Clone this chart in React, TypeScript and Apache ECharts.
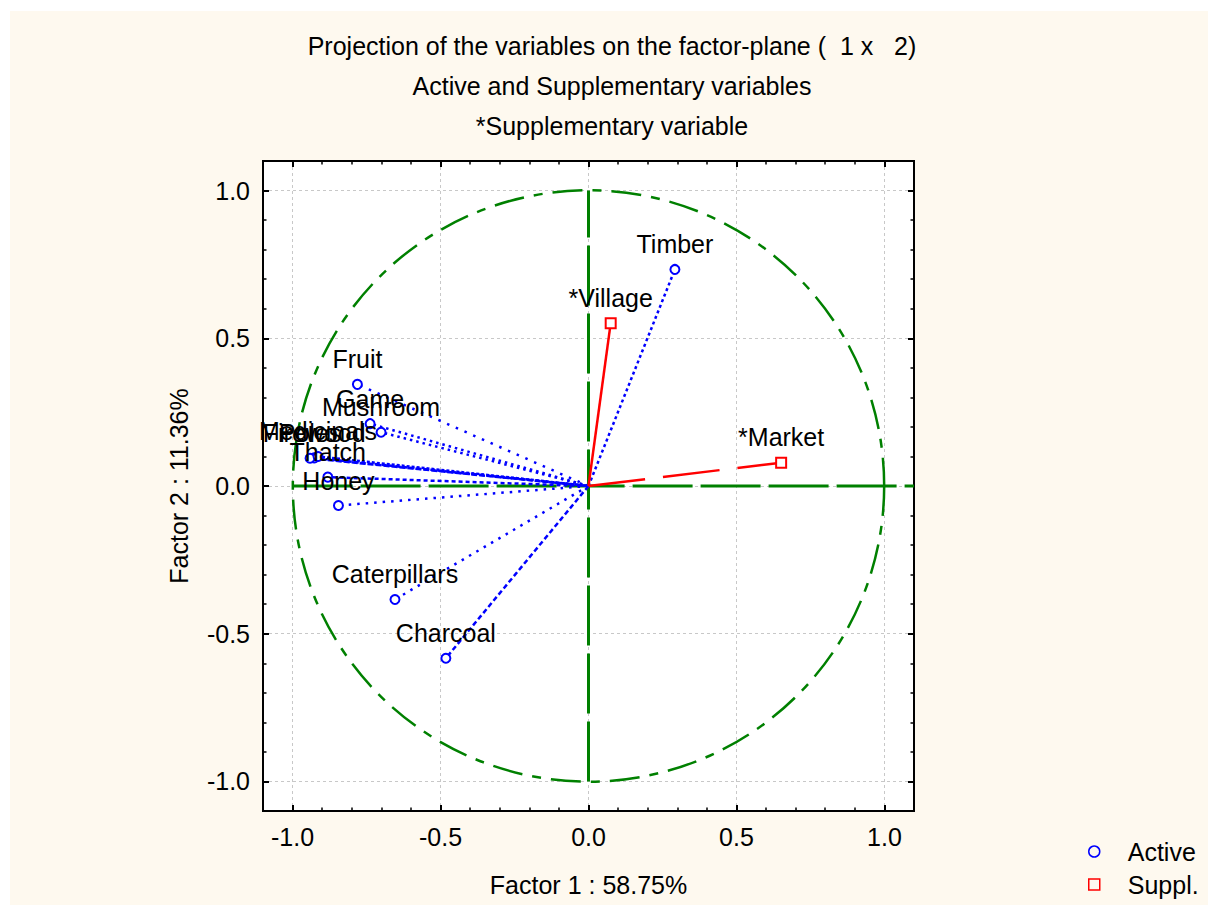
import React, { useEffect, useRef } from "react";
import * as echarts from "echarts";

// ---- data ----
const titleLines = [
  "Projection of the variables on the factor-plane (  1 x   2)",
  "Active and Supplementary variables",
  "*Supplementary variable",
];
const xAxisTitle = "Factor 1 : 58.75%";
const yAxisTitle = "Factor 2 : 11.36%";
const majorTicks = [-1, -0.5, 0, 0.5, 1];

const activeNames = ["Timber", "Fruit", "Game", "Mushroom", "Firewood", "Poles", "Medicinals", "Thatch", "Honey", "Caterpillars", "Charcoal"];
const activeF1 = [0.292, -0.781, -0.738, -0.701, -0.927, -0.941, -0.914, -0.881, -0.845, -0.654, -0.482];
const activeF2 = [0.733, 0.344, 0.211, 0.182, 0.095, 0.094, 0.1, 0.03, -0.066, -0.384, -0.583];

const supplNames = ["*Village", "*Market"];
const supplF1 = [0.075, 0.651];
const supplF2 = [0.551, 0.079];

// reference lines of the factor plane
const refVertical = [[0, -1], [0, 1]];
const refHorizontal = [[-1, 0], [1.1, 0]];

// ---- styles ----
const FONT = '"Liberation Sans", Arial, Helvetica, sans-serif';
const BLUE = "#0000ff";
const RED = "#ff0000";
const GREEN = "#008000";
const activeDash: any[] = [[3, 3], [2.5, 7], [2.5, 4], [2.5, 4], [5, 2], [6, 2], [3, 2], [4, 3], [2.5, 6], [2.5, 6], [5, 3]];
const supplDash: any[] = ["solid", [57, 18]];

function axisDef(position: string, minor: boolean, withLabels: boolean) {
  return {
    type: "value",
    position,
    min: -1.1,
    max: 1.1,
    ...(minor ? { interval: 0.1 } : {}),
    axisLine: { show: false, onZero: false },
    axisTick: minor
      ? { show: true, inside: true, length: 3.5, lineStyle: { color: "#000", width: 1.5 } }
      : { show: true, inside: true, length: 6, customValues: majorTicks, lineStyle: { color: "#000", width: 2 } },
    axisLabel: withLabels
      ? {
          show: true,
          customValues: majorTicks,
          formatter: (v: number) => v.toFixed(1),
          fontSize: 25,
          fontFamily: FONT,
          color: "#000",
          margin: 13,
        }
      : { show: false },
    splitLine: withLabels
      ? { show: true, lineStyle: { color: "#c8c8c8", width: 1, type: [3, 3] } }
      : { show: false },
  };
}

export default function App() {
  const ref = useRef<HTMLDivElement>(null);

  useEffect(() => {
    if (!ref.current) return;
    const chart = echarts.init(ref.current, null, { renderer: "svg" });

    const nameStyle = { fontSize: 25, fontFamily: FONT, color: "#000" };
    const xs: any[] = [
      { ...axisDef("bottom", false, true), name: xAxisTitle, nameLocation: "middle", nameGap: 61, nameTextStyle: nameStyle },
      axisDef("bottom", true, false),
      axisDef("top", false, false),
      axisDef("top", true, false),
    ];
    const ys: any[] = [
      { ...axisDef("left", false, true), name: yAxisTitle, nameLocation: "middle", nameGap: 72, nameRotate: 90, nameTextStyle: nameStyle },
      axisDef("left", true, false),
      axisDef("right", false, false),
      axisDef("right", true, false),
    ];

    const series: any[] = [];

    // unit circle
    series.push({
      type: "custom",
      name: "circle",
      silent: true,
      z: 2,
      data: [[0, 0]],
      renderItem: (params: any, api: any) => {
        const c = api.coord([0, 0]);
        const s = api.size([1, 1]);
        return {
          type: "circle",
          shape: { cx: c[0], cy: c[1], r: (s[0] + s[1]) / 2 },
          style: { fill: "none", stroke: GREEN, lineWidth: 2.5, lineDash: [30, 10, 9, 10] },
        };
      },
    });

    // reference axes lines
    [refVertical, refHorizontal].forEach((d, i) => {
      series.push({
        type: "line",
        name: "ref" + i,
        data: d,
        symbol: "none",
        silent: true,
        z: 2,
        lineStyle: { color: GREEN, width: 3, type: [60, 8] },
      });
    });

    // vectors
    activeNames.forEach((n, i) => {
      series.push({
        type: "line",
        name: n + " vector",
        data: [[0, 0], [activeF1[i], activeF2[i]]],
        symbol: "none",
        silent: true,
        z: 3,
        lineStyle: { color: BLUE, width: 2.5, type: activeDash[i] },
      });
    });
    supplNames.forEach((n, i) => {
      series.push({
        type: "line",
        name: n + " vector",
        data: [[0, 0], [supplF1[i], supplF2[i]]],
        symbol: "none",
        silent: true,
        z: 3,
        lineStyle: { color: RED, width: 2.5, type: supplDash[i] },
      });
    });

    const labelStyle = {
      show: true,
      position: "top",
      distance: 7,
      formatter: "{b}",
      color: "#000",
      opacity: 1,
      textBorderWidth: 0,
      fontSize: 25,
      fontFamily: FONT,
    };

    series.push({
      type: "scatter",
      name: "Active",
      symbol: "emptyCircle",
      symbolSize: 9,
      z: 5,
      itemStyle: { color: BLUE, borderWidth: 1.5, opacity: 1 },
      label: labelStyle,
      data: activeNames.map((n, i) => ({ name: n, value: [activeF1[i], activeF2[i]] })),
    });
    series.push({
      type: "scatter",
      name: "Suppl.",
      symbol: "emptyRect",
      symbolSize: 10,
      z: 5,
      itemStyle: { color: RED, borderWidth: 1.5, opacity: 1 },
      label: labelStyle,
      data: supplNames.map((n, i) => ({ name: n, value: [supplF1[i], supplF2[i]] })),
    });

    const option: any = {
      animation: false,
      backgroundColor: "#fef9ef",
      textStyle: { fontFamily: FONT },
      graphic: titleLines.map((t, i) => ({
        type: "text",
        x: 602,
        y: 35 + i * 40,
        silent: true,
        style: {
          text: t,
          fill: "#000",
          font: `25px ${FONT}`,
          textAlign: "center",
          textVerticalAlign: "middle",
        },
      })),
      grid: {
        left: 253,
        top: 150,
        width: 651,
        height: 650,
        show: true,
        backgroundColor: "#ffffff",
        borderColor: "#000",
        borderWidth: 2,
        containLabel: false,
        outerBoundsMode: "none",
      },
      legend: {
        show: true,
        orient: "vertical",
        left: 1078,
        top: 828,
        padding: 0,
        itemWidth: 11,
        itemHeight: 11,
        itemGap: 8,
        selectedMode: false,
        textStyle: { fontSize: 25, color: "#000", fontFamily: FONT, padding: [0, 0, 0, 23], lineHeight: 25 },
        data: [
          { name: "Active", icon: "circle", itemStyle: { color: "rgba(0,0,0,0)", borderColor: BLUE, borderWidth: 1.5 } },
          { name: "Suppl.", icon: "rect", itemStyle: { color: "rgba(0,0,0,0)", borderColor: RED, borderWidth: 1.5 } },
        ],
      },
      xAxis: xs,
      yAxis: ys,
      series,
    };

    chart.setOption(option);
    return () => chart.dispose();
  }, []);

  return (
    <div
      ref={ref}
      style={{ position: "absolute", left: 10, top: 11, width: 1198, height: 894 }}
    />
  );
}
